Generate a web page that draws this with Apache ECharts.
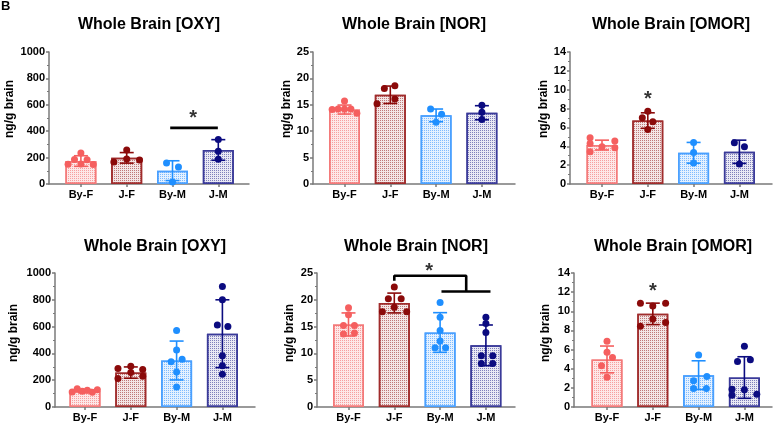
<!DOCTYPE html>
<html><head><meta charset="utf-8">
<script src="https://cdn.jsdelivr.net/npm/echarts@6/dist/echarts.min.js"></script>
<style>html,body{margin:0;padding:0;background:#fff}#c{width:777px;height:424px}</style>
</head><body><div id="c"></div><script>
const categories = ['By-F', 'J-F', 'By-M', 'J-M'];
const titles = ['Whole Brain [OXY]', 'Whole Brain [NOR]', 'Whole Brain [OMOR]', 'Whole Brain [OXY]', 'Whole Brain [NOR]', 'Whole Brain [OMOR]'];
const yMaxes = [1000, 25, 14, 1000, 25, 14];
const yIntervals = [200, 5, 2, 200, 5, 2];
const yAxisName = 'ng/g brain';
const panelLetter = 'B';

// Panel 1: top OXY
const oxyTopMean = [174, 198, 101, 258];
const oxyTopSD = [40, 40, 75, 78];
const oxyTopPoints = [[150, 186, 235, 152, 184, 148], [166, 257, 189, 181], [160, 128, 15], [338, 249, 187]];
const oxyTopJitter = [[-0.28, -0.14, 0, 0, 0.135, 0.27], [-0.28, 0, 0, 0.28], [-0.13, 0.13, 0], [0, 0, 0]];
const oxyTopSigLines = [[[1.95, 425], [2.99, 425]]];
const oxyTopStars = [[2.45, 529]];

// Panel 2: top NOR
const norTopMean = [14.1, 16.9, 13.0, 13.5];
const norTopSD = [0.85, 1.65, 1.2, 1.33];
const norTopPoints = [[14.1, 14.2, 15.7, 14.2, 14.2, 13.4], [15.2, 18.1, 18.6, 16.1], [14.2, 13.2, 11.7], [14.9, 13.6, 12.2]];
const norTopJitter = [[-0.27, -0.14, 0, 0, 0.14, 0.27], [-0.29, -0.13, 0.1, 0.1], [-0.12, 0.12, 0], [0, 0, 0]];
const norTopSigLines = [];
const norTopStars = [];

// Panel 3: top OMOR
const omorTopMean = [4.13, 6.73, 3.31, 3.42];
const omorTopSD = [0.52, 0.82, 1.1, 1.23];
const omorTopPoints = [[4.9, 4.3, 3.42, 3.95, 4.55, 3.84], [7.72, 7.02, 6.59, 5.78], [4.41, 3.35, 2.22], [4.37, 3.95, 2.12]];
const omorTopJitter = [[-0.26, -0.26, -0.26, 0, 0.28, 0.28], [0, -0.12, 0.11, 0], [0, 0, 0], [-0.11, 0.11, 0]];
const omorTopSigLines = [];
const omorTopStars = [[1, 9.41]];

// Panel 4: bottom OXY
const oxyBotMean = [118, 257, 347, 547];
const oxyBotSD = [12, 42, 145, 253];
const oxyBotPoints = [[112, 137, 118, 125, 110, 128], [212, 287, 305, 257, 280, 230], [570, 425, 337, 357, 262, 150], [900, 800, 612, 600, 382, 307, 245]];
const oxyBotJitter = [[-0.28, -0.17, -0.06, 0.05, 0.16, 0.27], [-0.28, -0.28, 0, 0, 0.26, 0.26], [0, 0, -0.12, 0.12, 0, 0], [0, 0, -0.11, 0.12, 0, 0, 0]];
const oxyBotSigLines = [];
const oxyBotStars = [];

// Panel 5: bottom NOR
const norBotMean = [15.4, 19.4, 13.9, 11.5];
const norBotSD = [2.15, 1.85, 3.7, 3.8];
const norBotPoints = [[18.5, 17.2, 15.2, 15.2, 13.6, 13.8], [22.4, 20.2, 20.2, 18.6, 17.75, 17.75], [19.5, 16.75, 14.25, 12.3, 11.06, 11.06], [16.75, 15.6, 13.9, 9.56, 9.56, 8.1, 8.1]];
const norBotJitter = [[0, 0, -0.11, 0.13, -0.11, 0.13], [0, -0.13, 0.15, 0, -0.26, 0.27], [0, 0, 0, 0, -0.11, 0.12], [0, 0, 0, -0.1, 0.15, -0.1, 0.15]];
const norBotSigLines = [[[1, 23.55], [1, 24.49], [2.57, 24.49], [2.57, 21.55]], [[2.03, 21.55], [3.1, 21.55]]];
const norBotStars = [[1.76, 26.1]];

// Panel 6: bottom OMOR
const omorBotMean = [4.97, 9.73, 3.33, 3.08];
const omorBotSD = [1.4, 1.12, 1.5, 2.17];
const omorBotPoints = [[6.86, 5.71, 5.18, 4.31, 3.1], [10.85, 10.85, 10.54, 9.2, 8.44, 8.82], [5.43, 2.73, 3.19, 1.93, 1.93], [6.34, 4.76, 4.94, 1.86, 1.79, 1.23, 1.33]];
const omorBotJitter = [[0, 0, 0.12, -0.12, 0], [-0.27, 0.28, 0, 0, -0.27, 0.28], [0, -0.11, 0.18, -0.11, 0.17], [0, -0.15, 0.13, -0.27, 0, -0.27, 0.27]];
const omorBotSigLines = [];
const omorBotStars = [[1, 12.46]];

// ---- styling / layout ----
const pointColors = ['#f55f5f', '#8b0a0a', '#1f8fff', '#0b0b80'];
const borderColors = ['#f47a7a', '#a02c2c', '#4aa0ff', '#3a3a99'];
const fillColors = ['#fde8e8', '#f3e6e6', '#e4f1ff', '#e9e9f4'];
const decalColors = ['rgba(244,110,110,0.6)', 'rgba(150,30,30,0.55)', 'rgba(60,150,255,0.6)', 'rgba(40,40,140,0.55)'];

const panels = [
  {mean: oxyTopMean, sd: oxyTopSD, pts: oxyTopPoints, jit: oxyTopJitter, sig: oxyTopSigLines, stars: oxyTopStars},
  {mean: norTopMean, sd: norTopSD, pts: norTopPoints, jit: norTopJitter, sig: norTopSigLines, stars: norTopStars},
  {mean: omorTopMean, sd: omorTopSD, pts: omorTopPoints, jit: omorTopJitter, sig: omorTopSigLines, stars: omorTopStars},
  {mean: oxyBotMean, sd: oxyBotSD, pts: oxyBotPoints, jit: oxyBotJitter, sig: oxyBotSigLines, stars: oxyBotStars},
  {mean: norBotMean, sd: norBotSD, pts: norBotPoints, jit: norBotJitter, sig: norBotSigLines, stars: norBotStars},
  {mean: omorBotMean, sd: omorBotSD, pts: omorBotPoints, jit: omorBotJitter, sig: omorBotSigLines, stars: omorBotStars}
];
const layout = [
  {left: 49, top: 52, width: 200, height: 132, off: 31.9, gap: 33, pad: 18, titleTop: 17},
  {left: 313, top: 52, width: 202, height: 132, off: 31.5, gap: 19, pad: 18, titleTop: 17},
  {left: 570, top: 52, width: 202, height: 132, off: 32, gap: 20, pad: 18, titleTop: 17},
  {left: 55, top: 273, width: 200, height: 134, off: 30, gap: 35, pad: 14, titleTop: 239},
  {left: 317, top: 273, width: 198, height: 134, off: 31.5, gap: 21, pad: 14, titleTop: 239},
  {left: 574, top: 273, width: 198, height: 134, off: 33, gap: 22, pad: 14, titleTop: 239}
];
const unitPx = 45.8;
const FONT = '"Liberation Sans", Arial, Helvetica, sans-serif';
const axisColor = '#7a7a7a';

const grids = [], xAxes = [], yAxes = [], series = [];
const titleList = [{text: panelLetter, left: 1, top: 0, padding: 0, textStyle: {fontSize: 13, fontWeight: 'bold', color: '#000', fontFamily: FONT}}];

panels.forEach((p, i) => {
  const L = layout[i];
  grids.push({left: L.left, top: L.top, width: L.width, height: L.height, containLabel: false});
  const xmin = -L.off / unitPx;
  const xmax = xmin + L.width / unitPx;
  xAxes.push({
    type: 'value', gridIndex: i, min: xmin, max: xmax,
    axisLine: {show: true, onZero: false, lineStyle: {color: axisColor, width: 1.5}},
    axisTick: {show: true, customValues: [0, 1, 2, 3], length: 3, lineStyle: {color: axisColor, width: 1.5}},
    axisLabel: {show: true, customValues: [0, 1, 2, 3], formatter: v => categories[Math.round(v)] || '', margin: 5,
      fontSize: 11, fontWeight: 'bold', color: '#000', fontFamily: FONT},
    splitLine: {show: false}
  });
  yAxes.push({
    type: 'value', gridIndex: i, min: 0, max: yMaxes[i], interval: yIntervals[i],
    name: yAxisName, nameLocation: 'middle', nameGap: L.gap,
    nameTextStyle: {fontSize: 12, fontWeight: 'bold', color: '#000', fontFamily: FONT, padding: [0, 0, 0, L.pad]},
    axisLine: {show: true, onZero: false, lineStyle: {color: axisColor, width: 1.5}},
    axisTick: {show: true, length: 3, lineStyle: {color: axisColor, width: 1.5}},
    minorTick: {show: true, splitNumber: 2, length: 2, lineStyle: {color: axisColor, width: 1}},
    axisLabel: {margin: 4, fontSize: 11, fontWeight: 'bold', color: '#000', fontFamily: FONT, formatter: v => String(v)},
    splitLine: {show: false}
  });
  titleList.push({text: titles[i], left: L.left + L.width / 2, top: L.titleTop, textAlign: 'center', padding: 0,
    textStyle: {fontSize: 16, fontWeight: 'bold', color: '#000', fontFamily: FONT}});

  series.push({
    type: 'bar', xAxisIndex: i, yAxisIndex: i, barWidth: 31, silent: true, z: 2,
    data: p.mean.map((m, j) => ({
      value: [j, m],
      itemStyle: {color: fillColors[j], borderColor: borderColors[j], borderWidth: 1.5,
        decal: {symbol: 'rect', symbolSize: 1, dashArrayX: [1, 1], dashArrayY: [1, 1], color: decalColors[j]}}
    }))
  });
  series.push({
    type: 'custom', xAxisIndex: i, yAxisIndex: i, silent: true, z: 3, clip: false,
    data: p.mean.map((m, j) => [j, m, p.sd[j]]),
    renderItem: (params, api) => {
      const x = api.value(0), m = api.value(1), s = api.value(2);
      const top = api.coord([x, m + s]);
      const bot = api.coord([x, m - s]);
      const c = pointColors[Math.round(x)];
      const hw = 7;
      const st = {stroke: c, lineWidth: 1.6};
      return {type: 'group', children: [
        {type: 'line', shape: {x1: top[0], y1: top[1], x2: bot[0], y2: bot[1]}, style: st},
        {type: 'line', shape: {x1: top[0] - hw, y1: top[1], x2: top[0] + hw, y2: top[1]}, style: st},
        {type: 'line', shape: {x1: bot[0] - hw, y1: bot[1], x2: bot[0] + hw, y2: bot[1]}, style: st}
      ]};
    }
  });
  const pts = [];
  p.pts.forEach((arr, j) => arr.forEach((v, k) => pts.push([j + p.jit[j][k], v, j])));
  series.push({
    type: 'scatter', xAxisIndex: i, yAxisIndex: i, silent: true, z: 4, clip: false,
    symbolSize: 7, data: pts,
    itemStyle: {opacity: 1, color: (prm) => pointColors[prm.data[2]]}
  });
  p.sig.forEach(seg => {
    series.push({
      type: 'line', xAxisIndex: i, yAxisIndex: i, silent: true, z: 5, clip: false,
      symbol: 'none', data: seg, lineStyle: {color: '#000', width: 2.6}
    });
  });
  if (p.stars.length) {
    series.push({
      type: 'scatter', xAxisIndex: i, yAxisIndex: i, silent: true, z: 5, clip: false,
      symbol: 'circle', symbolSize: 1, itemStyle: {color: 'rgba(0,0,0,0)'},
      data: p.stars,
      label: {show: true, formatter: '*', position: 'inside', offset: [0, 4], fontSize: 20, fontWeight: 'bold', color: '#000', fontFamily: FONT}
    });
  }
});

const chart = echarts.init(document.getElementById('c'), null, {renderer: 'canvas'});
chart.setOption({
  animation: false,
  backgroundColor: '#fff',
  title: titleList,
  grid: grids,
  xAxis: xAxes,
  yAxis: yAxes,
  series: series
});
</script></body></html>
